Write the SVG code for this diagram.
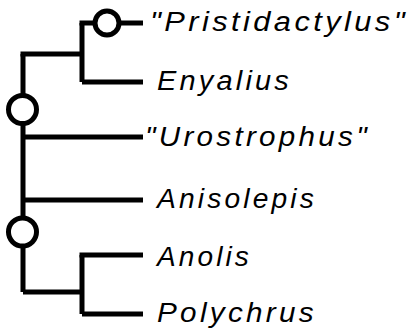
<svg xmlns="http://www.w3.org/2000/svg" width="410" height="334" viewBox="0 0 410 334">
<style>
.br{fill:none;stroke:#000;stroke-width:5;stroke-linecap:butt;stroke-linejoin:miter}
.nd{fill:#fff;stroke:#000;stroke-width:5}
.lb{font-family:"Liberation Sans",Arial,sans-serif;font-style:italic;font-size:27px;letter-spacing:3px;fill:#000}
</style>
<rect width="410" height="334" fill="#fff"/>
<g id="connectors">
<path class="br" d="M23,54 V292"/>
<path class="br" d="M20.5,54 H82"/>
<path class="br" d="M82,23 V82"/>
<path class="br" d="M79.5,23 H143"/>
<path class="br" d="M82,82 H143"/>
<path class="br" d="M23,137 H143"/>
<path class="br" d="M23,200 H143"/>
<path class="br" d="M23,292 H82"/>
<path class="br" d="M82,255 V314"/>
<path class="br" d="M79.5,255 H143"/>
<path class="br" d="M82,314 H143"/>
</g>
<g id="node-clade1"><circle class="nd" cx="107" cy="23" r="12"/></g>
<g id="node-clade2"><circle class="nd" cx="22.5" cy="109.5" r="14"/></g>
<g id="node-clade3"><circle class="nd" cx="22.5" cy="232" r="14"/></g>
<g id="taxon-pristidactylus"><text class="lb" x="150" y="31" textLength="258" lengthAdjust="spacingAndGlyphs">"Pristidactylus"</text></g>
<g id="taxon-enyalius"><text class="lb" x="157" y="90" textLength="135" lengthAdjust="spacingAndGlyphs">Enyalius</text></g>
<g id="taxon-urostrophus"><text class="lb" x="145" y="146" textLength="225" lengthAdjust="spacingAndGlyphs">"Urostrophus"</text></g>
<g id="taxon-anisolepis"><text class="lb" x="157" y="208" textLength="160" lengthAdjust="spacingAndGlyphs">Anisolepis</text></g>
<g id="taxon-anolis"><text class="lb" x="157" y="266" textLength="95" lengthAdjust="spacingAndGlyphs">Anolis</text></g>
<g id="taxon-polychrus"><text class="lb" x="157" y="322" textLength="160" lengthAdjust="spacingAndGlyphs">Polychrus</text></g>
</svg>
